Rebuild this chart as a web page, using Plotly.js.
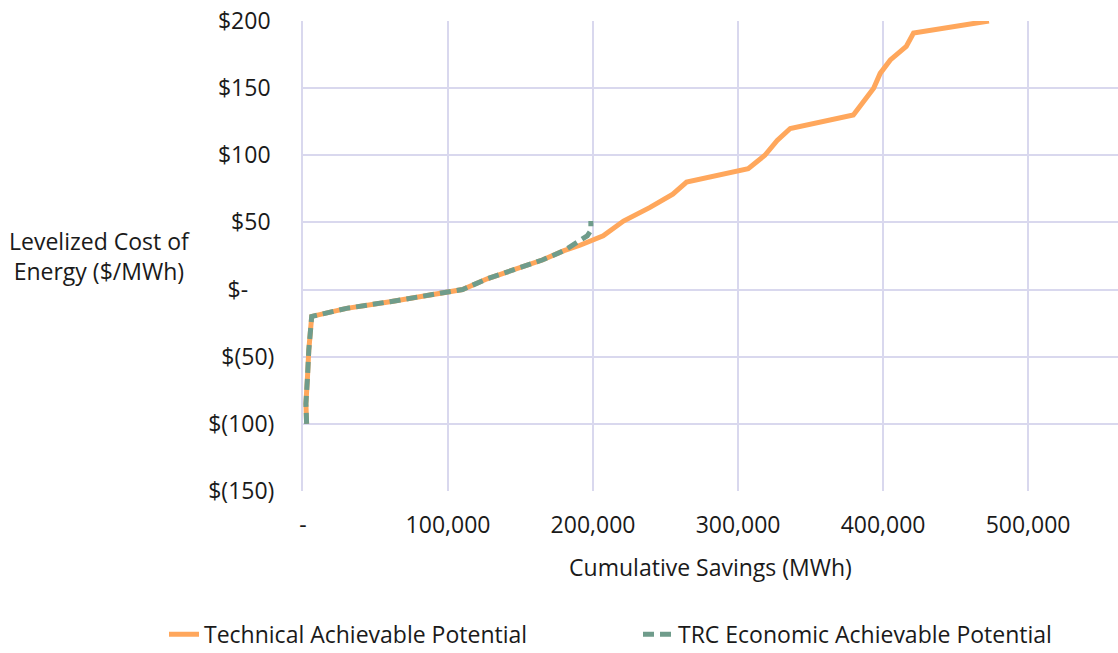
<!DOCTYPE html>
<html>
<head>
<meta charset="utf-8">
<script src="https://cdn.plot.ly/plotly-3.0.1.min.js"></script>
<style>html,body{margin:0;padding:0;background:#fff;}#chart{width:1118px;height:653px;}</style>
</head>
<body>
<div id="chart"></div>
<script>
// Technical Achievable Potential
const techSavings = [2500, 2000, 3000, 4000, 6000, 30000, 60000, 90000, 110000, 127000, 145000, 165000, 180000, 191000, 207000, 221000, 239000, 255000, 264500, 307000, 318500, 327000, 336000, 379500, 393500, 398000, 405000, 416000, 421000, 473000];
const techCost    = [-100, -85, -67, -45, -20, -14, -9, -4, 0, 8, 15, 22, 29, 33, 40, 51, 61, 71, 80, 90, 100, 111, 120, 130, 150, 161, 171, 181, 191, 200];
// TRC Economic Achievable Potential
const trcSavings = [2500, 2000, 3000, 4000, 6000, 30000, 60000, 90000, 110000, 127000, 145000, 165000, 180000, 191000, 196000, 198500, 198500];
const trcCost    = [-100, -85, -67, -45, -20, -14, -9, -4, 0, 8, 15, 22, 29, 36, 40, 44, 51];

const yTickVals = [-150, -100, -50, 0, 50, 100, 150, 200];
const yTickText = ["$(150)", "$(100)", "$(50)", "$-\u2007\u2007", "$50\u2009", "$100\u2009", "$150\u2009", "$200\u2009"];
const xTickVals = [0, 100000, 200000, 300000, 400000, 500000];
const xTickText = ["-", "100,000", "200,000", "300,000", "400,000", "500,000"];

const FONT = "'Open Sans', sans-serif";
const FS = 23;
const GRID = "#d9d8ee";

const traces = [
  {x: techSavings, y: techCost, type: "scatter", mode: "lines", name: "Technical Achievable Potential",
   line: {color: "#ffa75c", width: 5}, legend: "legend"},
  {x: trcSavings, y: trcCost, type: "scatter", mode: "lines", name: "TRC Economic Achievable Potential",
   line: {color: "#6f9c8b", width: 5, dash: "11px,6px"}, legend: "legend2"}
];

const legendBase = {orientation: "h", xref: "container", yref: "paper", xanchor: "left", yanchor: "middle",
                    font: {size: FS, family: FONT, color: "#1a1a1a"}, bgcolor: "rgba(0,0,0,0)", borderwidth: 0};

const layout = {
  width: 1118, height: 653,
  margin: {l: 303, r: 0, t: 21, b: 162, autoexpand: false},
  paper_bgcolor: "#fff", plot_bgcolor: "#fff",
  font: {family: FONT, size: FS, color: "#1a1a1a"},
  showlegend: true,
  legend: Object.assign({}, legendBase, {x: 164 / 1118, y: -0.305}),
  legend2: Object.assign({}, legendBase, {x: 638 / 1118, y: -0.305}),
  xaxis: {range: [0, 562000], tickvals: xTickVals, ticktext: xTickText, showgrid: true, gridcolor: GRID, gridwidth: 2,
          zeroline: false, showline: false, ticks: "", ticklabelstandoff: 18, tickfont: {size: FS},
          title: {text: "Cumulative Savings (MWh)", standoff: 20, font: {size: FS}}},
  yaxis: {range: [-150, 200], tickvals: yTickVals, ticktext: yTickText, showgrid: true, gridcolor: GRID, gridwidth: 2,
          zeroline: false, showline: true, linecolor: GRID, linewidth: 2, ticks: "", ticklabelstandoff: 22, tickfont: {size: FS}},
  annotations: [
    {text: "Levelized Cost of<br>Energy ($/MWh)", xref: "paper", yref: "paper", x: -0.25, y: 0.5, xanchor: "center", yanchor: "middle",
     showarrow: false, align: "center", font: {size: FS, family: FONT}}
  ]
};

Plotly.newPlot("chart", traces, layout, {staticPlot: true, displayModeBar: false});
</script>
</body>
</html>
